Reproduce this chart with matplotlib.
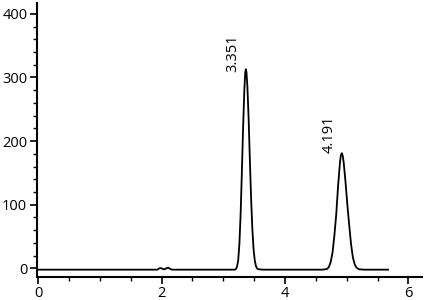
import matplotlib
matplotlib.use("Agg")
import matplotlib.pyplot as plt
from matplotlib.ticker import MultipleLocator

plt.rcParams['font.family'] = ['Open Sans', 'DejaVu Sans']

# Trace (time in min, signal in mAU)
time = [0.0, 1.90, 1.93, 1.96, 1.99, 2.02, 2.05, 2.08, 2.11, 2.14, 2.17,
        3.18, 3.20, 3.22, 3.24, 3.26, 3.28, 3.30, 3.32, 3.34, 3.355, 3.365,
        3.375, 3.39, 3.41, 3.43, 3.45, 3.47, 3.49, 3.51, 3.53, 3.55, 3.58, 3.65,
        4.60, 4.68, 4.71, 4.74, 4.77, 4.80, 4.83, 4.86, 4.89, 4.905, 4.92,
        4.935, 4.95, 4.98, 5.01, 5.04, 5.07, 5.10, 5.13, 5.16, 5.20, 5.30, 5.67]
signal = [-2, -2, -2, 0, 0.5, -1, -1.5, 0.5, 1, -1, -2,
          -2, -1.5, 2, 12, 38, 85, 150, 220, 280, 308, 313,
          308, 285, 235, 170, 110, 62, 30, 12, 3, -0.5, -1.5, -2,
          -2, -1, 2, 10, 25, 52, 85, 130, 166, 178, 181,
          177, 167, 136, 100, 68, 38, 17, 6, 1, -1.5, -2, -2]

peak_labels = ['3.351', '4.191']
label_x = [3.16, 4.72]
label_y = [309, 181]

fig = plt.figure(figsize=(4.24, 3.0), dpi=100)
ax = fig.add_axes([0.0873, 0.078, 0.908, 0.912])

ax.plot(time, signal, color='black', lw=1.3)

for lab, x, y in zip(peak_labels, label_x, label_y):
    ax.text(x, y, lab, rotation=90, ha='center', va='bottom', fontsize=10.5)

ax.set_xlim(-0.02, 6.22)
ax.set_ylim(-12.9, 417)
ax.xaxis.set_major_locator(MultipleLocator(2))
ax.xaxis.set_minor_locator(MultipleLocator(0.5))
ax.yaxis.set_major_locator(MultipleLocator(100))
ax.yaxis.set_minor_locator(MultipleLocator(20))

for side in ['top', 'right']:
    ax.spines[side].set_visible(False)
for side in ['left', 'bottom']:
    ax.spines[side].set_linewidth(1.5)

ax.tick_params(which='major', length=5, width=1.2, labelsize=10.5, pad=2)
ax.tick_params(which='minor', length=3, width=1.0)

plt.savefig('out.png', dpi=100)
